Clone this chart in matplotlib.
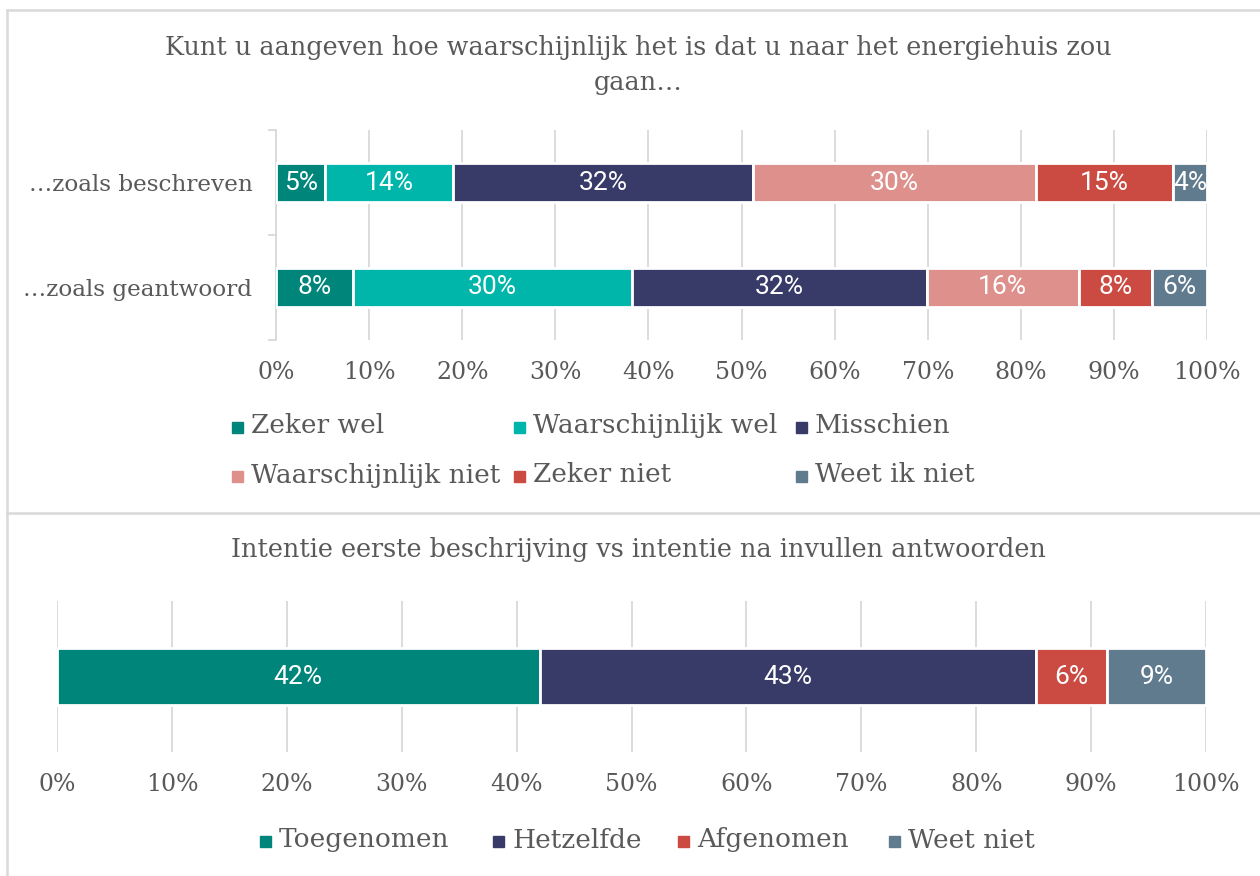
import numpy as np
import matplotlib
matplotlib.use("Agg")
import matplotlib.pyplot as plt
from matplotlib.patches import Rectangle
from matplotlib.lines import Line2D

# ---------------- data ----------------
top_title = "Kunt u aangeven hoe waarschijnlijk het is dat u naar het energiehuis zou\ngaan…"
top_rows = ["…zoals beschreven", "…zoals geantwoord"]
top_series = ["Zeker wel", "Waarschijnlijk wel", "Misschien",
              "Waarschijnlijk niet", "Zeker niet", "Weet ik niet"]
zeker_wel = [5.3, 8.3]
waarschijnlijk_wel = [13.7, 29.9]
misschien = [32.2, 31.7]
waarschijnlijk_niet = [30.4, 16.3]
zeker_niet = [14.8, 7.9]
weet_ik_niet = [3.6, 5.9]
top_values = [zeker_wel, waarschijnlijk_wel, misschien,
              waarschijnlijk_niet, zeker_niet, weet_ik_niet]
top_colors = ["#00857A", "#00B5A9", "#383B68", "#DE918C", "#CB4B42", "#607B8E"]

bot_title = "Intentie eerste beschrijving vs intentie na invullen antwoorden"
bot_series = ["Toegenomen", "Hetzelfde", "Afgenomen", "Weet niet"]
bot_values = [42.0, 43.2, 6.2, 8.6]
bot_colors = ["#00857A", "#383B68", "#CB4B42", "#607B8E"]

x_ticks = list(range(0, 101, 10))
x_ticklabels = [f"{t}%" for t in x_ticks]

# ---------------- style ----------------
W, H = 1260, 876
TXT = "#595959"
GRID = "#D9D9D9"
SERIF = ["DejaVu Serif"]
SANS = ["Roboto", "DejaVu Sans"]
FS_TITLE = 18.4
FS_TICK = 17
FS_YLAB = 16.7
FS_LEG = 19
FS_BAR = 19

fig = plt.figure(figsize=(W / 100, H / 100), dpi=100)
fig.patch.set_facecolor("white")


def fx(px):
    return px / W


def fy(py):
    return 1 - py / H


def pct(v):
    return f"{int(np.floor(v + 0.5))}%"


# panel borders
for (x0, y0, x1, y1) in [(7, 10, W, 10), (7, 10, 7, H), (7, 513, W, 513)]:
    fig.add_artist(Line2D([fx(x0), fx(x1)], [fy(y0), fy(y1)],
                          transform=fig.transFigure, color=GRID, lw=1.8))

# ---------------- top chart ----------------
ax1 = fig.add_axes([fx(276), fy(340), fx(1207) - fx(276), fy(130) - fy(340)])
ypos = np.arange(len(top_rows))
left = np.zeros(len(top_rows))
for name, vals, col in zip(top_series, top_values, top_colors):
    vals = np.array(vals)
    bars = ax1.barh(ypos, vals, left=left, height=0.367, color=col,
                    edgecolor="white", linewidth=2, zorder=3, label=name)
    for b, v in zip(bars, vals):
        ax1.text(b.get_x() + b.get_width() / 2, b.get_y() + b.get_height() / 2,
                 pct(v), ha="center", va="center", color="white",
                 fontsize=FS_BAR, family=SANS, zorder=4)
    left += vals
ax1.set_xlim(0, 100)
ax1.set_ylim(1.5, -0.5)
ax1.set_xticks(x_ticks)
ax1.set_xticklabels(x_ticklabels, family=SERIF, fontsize=FS_TICK, color=TXT)
ax1.set_yticks(ypos)
ax1.set_yticklabels(top_rows, family=SERIF, fontsize=FS_YLAB, color=TXT)
ax1.set_yticks([-0.5, 0.5, 1.5], minor=True)
ax1.tick_params(axis="x", length=0, pad=15)
ax1.tick_params(axis="y", which="major", length=0, pad=17)
ax1.tick_params(axis="y", which="minor", length=6, color=GRID, width=1.3)
ax1.grid(axis="x", color=GRID, lw=1.3, zorder=0)
for s in ["top", "right", "bottom"]:
    ax1.spines[s].set_visible(False)
ax1.spines["left"].set_color(GRID)
ax1.spines["left"].set_linewidth(1.3)

fig.text(fx(638), fy(65), top_title, ha="center", va="center",
         family=SERIF, fontsize=FS_TITLE, color=TXT, linespacing=1.5)

# top legend (2 rows x 3 columns)
leg_x = [232, 514, 796]
leg_y = [426, 475]
for i, (name, col) in enumerate(zip(top_series, top_colors)):
    r, c = divmod(i, 3)
    mx, my = leg_x[c], leg_y[r]
    fig.add_artist(Rectangle((fx(mx), fy(my + 7)), fx(11), 11 / H,
                             transform=fig.transFigure, color=col))
    fig.text(fx(mx + 19), fy(my), name, ha="left", va="center",
             family=SERIF, fontsize=FS_LEG, color=TXT)

# ---------------- bottom chart ----------------
ax2 = fig.add_axes([fx(57), fy(752), fx(1206) - fx(57), fy(601) - fy(752)])
left = 0.0
for name, v, col in zip(bot_series, bot_values, bot_colors):
    b = ax2.barh([0], [v], left=left, height=0.38, color=col,
                 edgecolor="white", linewidth=2, zorder=3, label=name)[0]
    ax2.text(b.get_x() + b.get_width() / 2, 0, pct(v), ha="center", va="center",
             color="white", fontsize=FS_BAR, family=SANS, zorder=4)
    left += v
ax2.set_xlim(0, 100)
ax2.set_ylim(0.5, -0.5)
ax2.set_xticks(x_ticks)
ax2.set_xticklabels(x_ticklabels, family=SERIF, fontsize=FS_TICK, color=TXT)
ax2.set_yticks([])
ax2.tick_params(axis="x", length=0, pad=15)
ax2.grid(axis="x", color=GRID, lw=1.3, zorder=0)
for s in ["top", "right", "bottom", "left"]:
    ax2.spines[s].set_visible(False)

fig.text(fx(638), fy(550), bot_title, ha="center", va="center",
         family=SERIF, fontsize=FS_TITLE, color=TXT)

bleg_x = [260, 493, 678, 889]
for name, col, mx in zip(bot_series, bot_colors, bleg_x):
    my = 840
    fig.add_artist(Rectangle((fx(mx), fy(my + 7)), fx(11), 11 / H,
                             transform=fig.transFigure, color=col))
    fig.text(fx(mx + 19), fy(my), name, ha="left", va="center",
             family=SERIF, fontsize=FS_LEG, color=TXT)

fig.savefig("out.png", dpi=100, facecolor="white")
